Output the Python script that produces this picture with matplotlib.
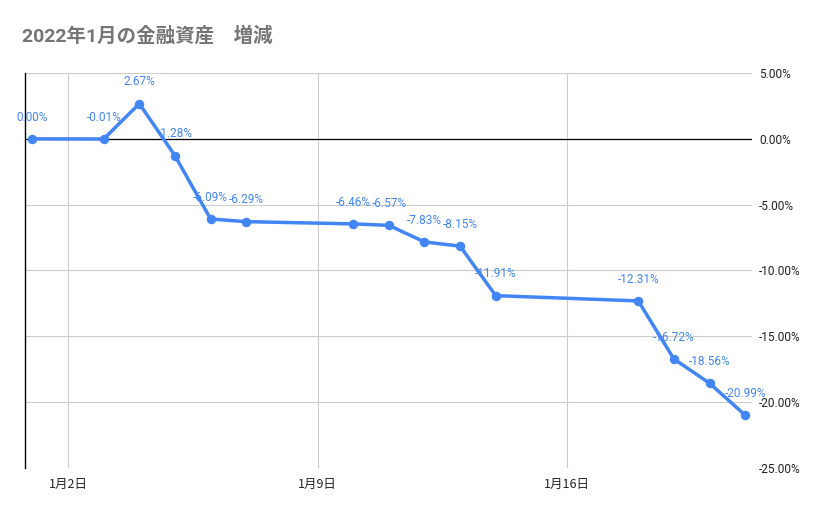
import matplotlib.pyplot as plt
import matplotlib.ticker as mticker
import datetime as dt

plt.rcParams['font.family'] = ['Roboto', 'Noto Sans CJK JP', 'DejaVu Sans']

# data
days = [1, 3, 4, 5, 6, 7, 10, 11, 12, 13, 14, 18, 19, 20, 21]
values = [0.00, -0.01, 2.67, -1.28, -6.09, -6.29, -6.46, -6.57,
          -7.83, -8.15, -11.91, -12.31, -16.72, -18.56, -20.99]
tick_days = [2, 9, 16]
title = "2022年1月の金融資産　増減"

dates = [dt.datetime(2022, 1, d) for d in days]
blue = "#4285F4"

fig = plt.figure(figsize=(8.29, 5.14), dpi=100)
ax = fig.add_axes([25 / 829, 1 - 468 / 514, 727 / 829, 395 / 514])

# =========================
# LINE
# =========================
ax.plot(dates, values, color=blue, linewidth=2.5, marker="o",
        markersize=5.8, zorder=3, clip_on=False)

for d, v in zip(dates, values):
    ax.annotate(f"{v:.2f}%", (d, v), xytext=(0, 11), textcoords="offset points",
                ha="center", va="bottom", fontsize=8.5, color=blue, zorder=4)

# =========================
# AXES
# =========================
ax.set_xlim(dt.datetime(2022, 1, 1) - dt.timedelta(hours=5),
            dt.datetime(2022, 1, 21) + dt.timedelta(hours=4.6))
ax.set_ylim(-25, 5)
ax.set_xticks([dt.datetime(2022, 1, d) for d in tick_days])
ax.set_xticklabels([f"1月{d}日" for d in tick_days],
                   family=['Noto Sans CJK JP', 'DejaVu Sans'], fontsize=9)
ax.set_yticks(range(-25, 6, 5))
ax.yaxis.set_major_formatter(mticker.FuncFormatter(lambda y, _: f"{y:.2f}%"))
ax.yaxis.tick_right()
ax.tick_params(axis="both", length=0, colors="#222222")
ax.tick_params(axis="y", pad=5, labelsize=8.6)
ax.tick_params(axis="x", pad=7)

ax.grid(True, color="#cccccc", linewidth=0.8)
ax.axhline(0, color="black", linewidth=0.9, zorder=2)
for s in ["top", "right", "bottom"]:
    ax.spines[s].set_visible(False)
ax.spines["left"].set_color("black")
ax.spines["left"].set_linewidth(1.0)

fig.text(22 / 829, 1 - 36 / 514, title, fontsize=14, fontweight="bold",
         color="#757575", va="center", ha="left",
         family=['Roboto', 'Noto Sans CJK JP'])

fig.savefig("out.png", dpi=100)
